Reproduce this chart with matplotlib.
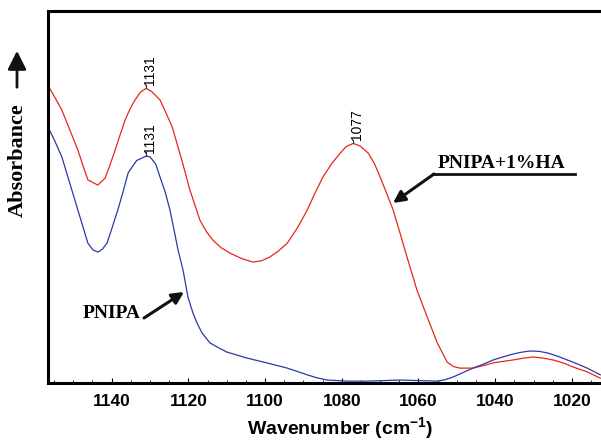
"""FTIR spectra of PNIPA and PNIPA+1%HA (1160-1010 cm-1)"""

import matplotlib
matplotlib.use('Agg')
import matplotlib.pyplot as plt
from matplotlib.ticker import MultipleLocator

# PNIPA+1%HA (red)
wn_ha = [1156.4, 1154.7, 1153.0, 1150.9, 1148.8, 1147.5, 1146.2, 1143.6, 1141.7,
         1140.4, 1139.1, 1137.8, 1136.5, 1135.2, 1133.9, 1132.5, 1131.0, 1129.5,
         1127.4, 1126.0, 1124.2, 1123.0, 1121.7, 1119.6, 1117.0, 1115.3, 1113.6,
         1111.5, 1109.1, 1106.0, 1103.1, 1100.8, 1098.7, 1096.5, 1094.2, 1091.5,
         1089.0, 1087.0, 1084.9, 1082.6, 1080.4, 1078.8, 1077.0, 1075.2, 1073.1,
         1071.5, 1070.0, 1068.3, 1066.6, 1064.8, 1063.0, 1060.4, 1057.7, 1055.1,
         1052.5, 1050.8, 1049.2, 1045.8, 1043.0, 1040.5, 1038.0, 1035.3, 1032.5,
         1030.1, 1027.5, 1024.9, 1022.0, 1019.7, 1016.0, 1012.6]
abs_ha = [0.796, 0.766, 0.734, 0.680, 0.626, 0.585, 0.546, 0.532, 0.551,
          0.587, 0.626, 0.667, 0.707, 0.737, 0.761, 0.782, 0.792, 0.783,
          0.761, 0.730, 0.688, 0.645, 0.599, 0.519, 0.438, 0.407, 0.384,
          0.364, 0.349, 0.334, 0.325, 0.329, 0.339, 0.355, 0.376, 0.418,
          0.465, 0.510, 0.554, 0.590, 0.618, 0.636, 0.644, 0.637, 0.618,
          0.590, 0.554, 0.510, 0.465, 0.403, 0.339, 0.250, 0.177, 0.108,
          0.056, 0.044, 0.040, 0.040, 0.047, 0.054, 0.058, 0.062, 0.067,
          0.070, 0.067, 0.062, 0.053, 0.043, 0.030, 0.013]

# PNIPA (blue)
wn_pn = [1156.6, 1154.8, 1153.0, 1151.3, 1149.6, 1147.9, 1146.2, 1144.9, 1143.6,
         1142.4, 1141.2, 1139.8, 1138.4, 1137.0, 1135.7, 1133.5, 1131.0, 1130.0,
         1128.5, 1127.4, 1126.0, 1124.8, 1123.7, 1122.7, 1121.4, 1120.1, 1118.8,
         1117.6, 1116.4, 1114.4, 1112.0, 1109.9, 1104.7, 1099.5, 1094.2, 1089.0,
         1086.5, 1083.8, 1078.6, 1073.4, 1064.8, 1055.1, 1053.0, 1051.0, 1048.4,
         1045.8, 1043.0, 1040.5, 1038.0, 1035.3, 1033.0, 1030.9, 1028.5, 1026.4,
         1024.0, 1021.2, 1018.5, 1016.0, 1012.6]
abs_pn = [0.688, 0.650, 0.608, 0.550, 0.492, 0.434, 0.376, 0.358, 0.352,
          0.360, 0.376, 0.420, 0.465, 0.515, 0.565, 0.598, 0.610, 0.608,
          0.588, 0.554, 0.512, 0.465, 0.410, 0.358, 0.304, 0.231, 0.188,
          0.158, 0.134, 0.108, 0.094, 0.083, 0.067, 0.054, 0.040, 0.022,
          0.014, 0.008, 0.005, 0.005, 0.008, 0.005, 0.009, 0.016, 0.028,
          0.040, 0.051, 0.062, 0.070, 0.078, 0.083, 0.086, 0.085, 0.081,
          0.073, 0.062, 0.051, 0.040, 0.022]

# peak labels: (wavenumber, absorbance, text)
peaks_ha = [(1131.0, 0.792, '1131'), (1077.0, 0.644, '1077')]
peaks_pn = [(1131.0, 0.610, '1131')]

plt.rcParams['mathtext.fontset'] = 'custom'
plt.rcParams['mathtext.bf'] = 'Liberation Sans:bold'
plt.rcParams['mathtext.rm'] = 'Liberation Sans:bold'

fig = plt.figure(figsize=(6.01, 4.43), dpi=100)
ax = fig.add_axes([48 / 601, 1 - 383 / 443, 1 - 48 / 601, 372 / 443])

ax.plot(wn_ha, abs_ha, color='#e8261c', lw=0.9)
ax.plot(wn_pn, abs_pn, color='#2b3aa0', lw=0.9)

ax.set_xlim(1156.6, 1012.4)
ax.set_ylim(0, 1)
ax.xaxis.set_major_locator(MultipleLocator(20))
ax.xaxis.set_minor_locator(MultipleLocator(5))
ax.tick_params(axis='x', which='major', direction='in', length=3.5, width=0.8, pad=8)
ax.tick_params(axis='x', which='minor', direction='in', length=2, width=0.6)
ax.set_yticks([])
for lab in ax.get_xticklabels():
    lab.set_fontfamily('Liberation Sans')
    lab.set_fontweight('bold')
    lab.set_fontsize(12.5)

ax.spines['right'].set_visible(False)
for side in ['left', 'top', 'bottom']:
    ax.spines[side].set_linewidth(2.2)

for x, y, t in peaks_ha + peaks_pn:
    ax.annotate(t, xy=(x, y), xytext=(2.5, 2.5), textcoords='offset points',
                rotation=90, ha='center', va='bottom', fontsize=10,
                family='Liberation Sans')
    ax.plot([x, x], [y, y + 0.01], color='#333333', lw=0.8)

# series labels with arrows
serif = dict(family='Liberation Serif', weight='bold', fontsize=14)
fig.text(502 / 601, 1 - 163 / 443, 'PNIPA+1%HA', ha='center', va='center', **serif)
fig.add_artist(plt.Line2D([433 / 601, 575 / 601], [1 - 174 / 443, 1 - 174 / 443],
                          color='#111111', lw=2))
ax.annotate('', xy=(393 / 601, 1 - 203 / 443), xytext=(434 / 601, 1 - 174 / 443),
            xycoords='figure fraction', textcoords='figure fraction',
            arrowprops=dict(arrowstyle='-|>,head_length=0.7,head_width=0.35',
                            color='#111111', lw=2.2, shrinkA=0, shrinkB=0))

fig.text(112 / 601, 1 - 313 / 443, 'PNIPA', ha='center', va='center', **serif)
ax.annotate('', xy=(184 / 601, 1 - 292 / 443), xytext=(144 / 601, 1 - 318 / 443),
            xycoords='figure fraction', textcoords='figure fraction',
            arrowprops=dict(arrowstyle='-|>,head_length=0.7,head_width=0.35',
                            color='#111111', lw=2.2, shrinkA=0, shrinkB=0))

# axis titles
fig.text(340 / 601, 1 - 429 / 443, r'Wavenumber (cm$^{\mathbf{-1}}$)', ha='center', va='center',
         family='Liberation Sans', weight='bold', fontsize=14)
fig.text(18 / 601, 1 - 160 / 443, 'Absorbance', rotation=90, ha='center', va='center',
         family='Liberation Serif', weight='bold', fontsize=16)
fig.add_artist(matplotlib.patches.FancyArrowPatch(
    (17 / 601, 1 - 90 / 443), (17 / 601, 1 - 48 / 443), transform=fig.transFigure,
    arrowstyle='-|>,head_length=0.8,head_width=0.4', color='#111111', lw=2,
    mutation_scale=14))

fig.savefig('out.png', dpi=100)
